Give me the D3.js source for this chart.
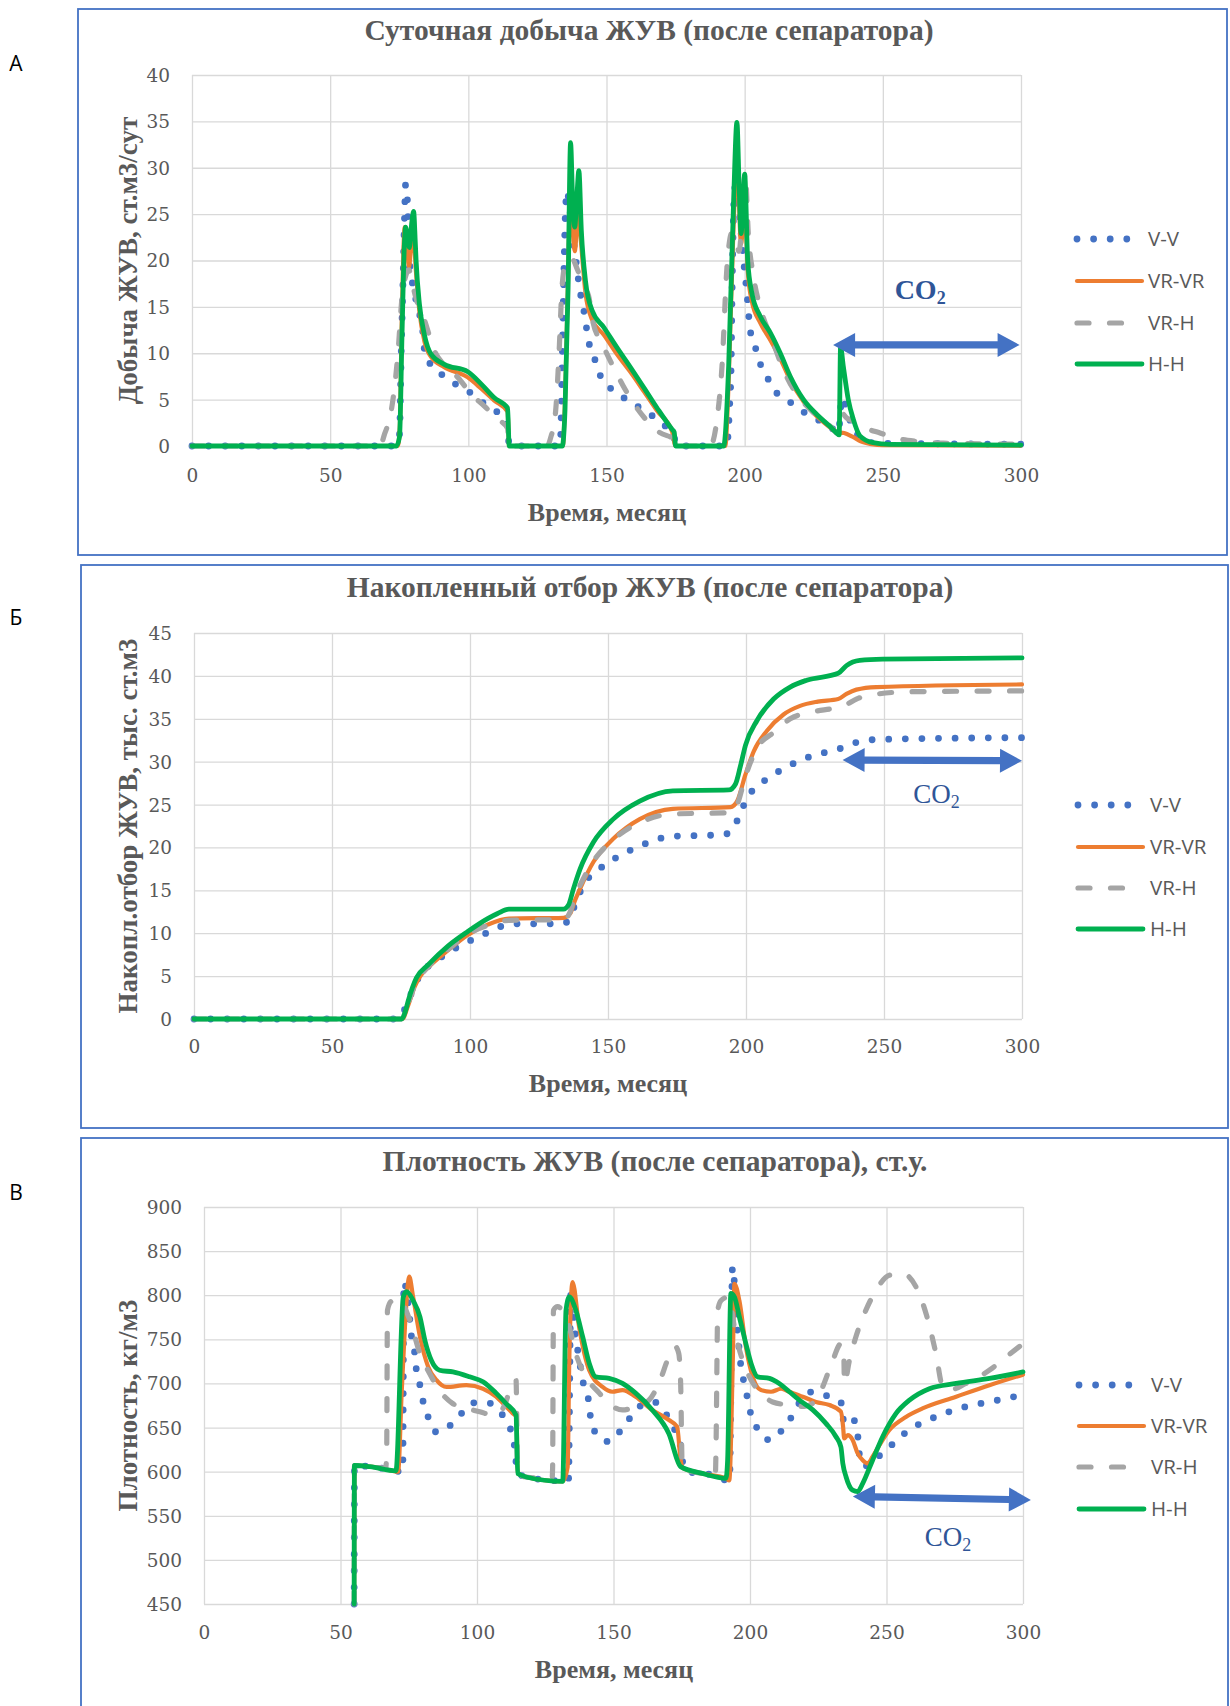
<!DOCTYPE html>
<html>
<head>
<meta charset="utf-8">
<script src="https://cdn.jsdelivr.net/npm/d3@7"></script>
<style>
  body { margin: 0; background: #fff; }
  svg { display: block; }
</style>
</head>
<body>
<div id="chart"></div>
<script>
// common x axis (months) and series names
var timeTicks = [0, 50, 100, 150, 200, 250, 300];
var seriesNames = ["V-V", "VR-VR", "VR-H", "H-H"];

// А - суточная добыча ЖУВ, ст.м3/сут   [месяц, значение]
var prodTicks = [0, 5, 10, 15, 20, 25, 30, 35, 40];
var prodVV = [[0,0],[73,0],[74.5,0.4],[75.1,1.3],[75.7,9.9],[76.3,17],[76.9,24.6],[77.3,28.2],[77.9,26.8],[78.7,20],[79.3,18.5],[81.7,14.9],[83.5,12.4],[84.1,10.4],[86.3,8.8],[90.4,7.7],[95.2,6.7],[100.5,5.8],[105.2,4.7],[110.3,3.7],[113.6,2.7],[114.2,1.6],[114.8,0.2],[115.5,0],[133,0],[133.4,1],[134,9.9],[134.6,18.9],[135.2,25.7],[135.8,27.5],[136.5,26],[138.2,21.8],[140.6,16.4],[141.8,14.6],[143.6,11.2],[145.7,9.4],[147.6,7.7],[151.2,6.3],[156.3,5.2],[161.1,4.3],[165.9,3.4],[170.7,2.3],[174.3,1.1],[175.5,0],[193.5,0],[194.5,4],[195.1,8.6],[195.4,15.7],[195.8,22.9],[196.3,27.6],[196.7,28],[198.4,24],[199.6,20],[200.8,16.5],[202,12.5],[203.8,10.7],[205.6,8.9],[208,7.5],[210.5,6.1],[215.3,5],[220.1,3.9],[226.1,2.9],[230.9,2.1],[233.9,1.4],[235.2,5.2],[236.9,3.9],[238.7,2.3],[241.7,0.9],[245,0.4],[250,0.3],[300,0.2]];
var prodVRVR = [[0,0],[74.5,0],[75.2,2],[75.8,12],[76.5,21],[77,23.6],[77.8,22],[78.5,19.3],[79.5,22],[80.2,22.5],[81,19],[82.3,14.5],[84.1,11.3],[86.5,9.6],[91.3,8.5],[99.8,7.4],[104.6,6.2],[109.4,4.9],[114.2,3.7],[114.8,0],[134.2,0],[135,5],[136,17],[136.9,27],[137.6,24],[138.5,21],[139.8,25],[140.9,21.5],[142.4,16.5],[144.8,13.6],[149,12],[153.8,9.9],[158.6,8],[163.5,5.9],[168.3,3.8],[173.7,1.6],[175,0],[193,0],[194.2,7],[196,24],[197.2,31],[198.7,21.8],[200,26.5],[201.1,19],[202.6,15.6],[205.6,13.3],[209.3,11.4],[212.9,9.4],[216.5,7.1],[221.3,4.8],[226.1,3.2],[230.9,2],[233.3,1.5],[236,1.4],[239,1],[242,0.5],[246,0.2],[250,0.1],[300,0.05]];
var prodVRH = [[0,0],[68,0],[69.7,1.3],[72.1,3.8],[74.5,9.9],[76,16],[77.5,18.5],[78.5,19],[79.5,17.8],[81,16],[84.1,13.6],[87.7,10.3],[91.3,8.7],[96.2,7.4],[101,5.6],[105.8,4.3],[110.6,2.9],[114.2,1.9],[114.8,0],[128.5,0],[129.8,0.9],[131.6,3.8],[132.8,9.9],[134,17.5],[135.5,20],[137.5,20.2],[139.5,19],[141.8,17.1],[143.5,16.2],[145,13.5],[148.5,11],[152,8.8],[156,6.5],[160.5,4.3],[165,2.6],[169,1.5],[173,1],[174.8,0.8],[175.2,0],[187.5,0],[190,2.9],[191.8,8.6],[193.6,19.3],[195.4,23],[196.5,22.5],[198,21],[199.5,27],[200.2,29.5],[201.3,23],[203.2,18.3],[206.3,14.3],[209.9,11.5],[213.5,8.6],[217.7,6.1],[222.5,4.3],[228.5,2.7],[232.1,1.8],[233.3,1.4],[235.2,3.5],[237,3],[240,2.6],[244,1.9],[249,1.4],[254,0.9],[262,0.5],[272,0.3],[300,0.2]];
var prodHH = [[0,0],[74,0],[75.1,1],[76,12],[76.9,22],[77.3,23.6],[78,22.5],[78.7,21.4],[79.5,24],[80.2,25.3],[80.8,22],[81.1,20],[82.3,15.3],[84.1,12],[86.5,9.9],[91.3,8.8],[99.8,8],[104.6,6.7],[109.4,5.2],[114.2,4.1],[114.8,0],[134,0],[135,4],[136.1,17],[137,32.7],[137.7,27],[138.5,23.6],[139.3,27],[140,29.7],[140.9,23.2],[142.4,17.8],[144.8,14.6],[149,12.8],[153.8,10.6],[158.6,8.5],[163.5,6.3],[168.3,4.1],[173.7,1.8],[174.5,1.5],[175,0],[192.4,0],[194.2,8.6],[196,26.5],[197.2,34.9],[198,28],[198.7,22.9],[199.4,26],[200,29.3],[201.1,20],[202.6,16.5],[205.6,14],[209.3,12.2],[212.9,10],[216.5,7.5],[221.3,5],[226.1,3.4],[230.9,2.1],[233.3,1.4],[234.2,1.2],[234.7,10.7],[235.7,8.6],[237.5,5],[239.3,2.9],[241.7,1.1],[246.5,0.36],[252.5,0.18],[300,0.1]];

// Б - накопленный отбор ЖУВ, тыс. ст.м3
var cumTicks = [0, 5, 10, 15, 20, 25, 30, 35, 40, 45];
var cumVV = [[0,0],[74,0],[75.5,0.6],[77.5,2],[79,3.2],[81,4.6],[85,6.2],[90,7.3],[95,8.3],[100.5,9.2],[105.8,10],[111.3,10.8],[117,11.1],[123,11.1],[129,11.1],[134.5,11.2],[137.5,12.9],[139.6,14.6],[142.6,16.3],[146.9,17.5],[151.9,18.6],[157,19.5],[162.5,20.3],[168.2,21],[173.7,21.3],[185,21.4],[192,21.5],[195.7,22.4],[198.3,24.3],[201.3,26.2],[205.2,27.4],[210,28.5],[215.4,29.5],[220.8,30.3],[226.2,30.9],[232.2,31.3],[237.7,32],[243.6,32.5],[249.4,32.6],[300,32.8]];
var cumVRVR = [[0,0],[75.5,0],[77.5,1.5],[80,3.8],[82,5],[84.8,6],[92,8],[99.2,9.8],[106.4,11],[114.1,11.7],[133.9,11.8],[136.3,12.3],[138,13.8],[139.9,15.2],[144.7,18.3],[151.9,21],[161.5,23.3],[173.5,24.5],[194.4,24.7],[196.8,25.4],[199.8,28.5],[202.8,31.2],[207.6,33.6],[213.6,35.5],[219.6,36.5],[226,37],[233.4,37.3],[236.4,37.9],[240,38.4],[247.2,38.7],[300,39]];
var cumVRH = [[0,0],[75,0],[77.5,1.8],[80,3.9],[82,5],[84.8,6.1],[92,8.1],[99.2,9.9],[106.4,10.9],[114.1,11.5],[133.9,11.6],[136.3,12.5],[138,14.3],[139.9,15.6],[144.7,18.4],[151.9,20.9],[161.5,22.9],[173.5,23.9],[194.4,24.05],[196.8,25],[199.8,28.3],[204,31.6],[210,33.4],[216,35],[224,35.8],[232.8,36.3],[236,36.6],[240,37.3],[246,37.8],[259,38.15],[300,38.25]];
var cumHH = [[0,0],[75.2,0],[76.5,0.8],[77.6,2.1],[80.6,4.8],[84.8,6.3],[92,8.5],[99.2,10.2],[106.4,11.7],[110,12.3],[114.1,12.8],[133.9,12.8],[135.7,13.3],[137.5,15.2],[139.9,17.5],[144.7,20.6],[151.9,23.3],[161.5,25.4],[173.5,26.6],[193.8,26.7],[196.2,27.4],[198,29.5],[199.8,31.9],[204,34.8],[210,37.3],[216,38.7],[222,39.5],[233.4,40.3],[236.4,41.2],[241.2,41.8],[249.6,41.95],[300,42.1]];

// В - плотность ЖУВ, кг/м3
var densTicks = [450, 500, 550, 600, 650, 700, 750, 800, 850, 900];
var densVV = [[55,450],[55.1,607],[60,606],[65,604],[72.8,600],[73.2,815],[74.8,790],[75.4,772],[76,753],[77.2,734],[77.8,715],[79.1,698],[80.3,679],[82.1,662],[85.1,645],[90,652],[94.3,666],[98.5,678],[104,678],[108.9,666],[111.9,651],[113.5,634],[114.1,617],[114.9,598],[120.4,592.5],[126.5,590.6],[132,588.7],[133.5,590],[134.4,806],[135.6,768],[136.2,749],[137.4,730],[138.1,713],[139.3,696],[141.1,677],[141.7,658.5],[144.1,641.5],[148.4,634],[152.7,647],[156.3,662],[159.4,673.6],[164.8,679],[169.1,666],[172.2,649],[174.6,628],[175.2,613],[177,600],[185,597],[192.5,590],[193.6,832],[194.3,813],[194.9,775.5],[195.5,756.6],[196.7,719],[197.9,700],[199.1,683],[200.4,664],[203.2,647],[207.1,636],[211.7,647],[215.4,663],[218.7,681],[223,690.6],[228.4,685.7],[233.8,676.6],[234.2,658.5],[236.4,654.7],[237.6,660],[239.4,643],[240,621],[241.9,605.7],[244.3,611],[248.6,621],[252.5,632],[256.9,644],[262,654],[267.5,661.5],[273,668],[278.9,673.6],[284.6,677.4],[290.7,681],[296.8,685],[300,686]];
var densVRVR = [[55,450],[55.1,607],[60,606],[65,604],[71.1,600],[72.4,689],[73.6,764],[75.2,821],[76.6,798],[79.1,753],[82.1,719],[85.1,704],[88.8,696],[96.1,698],[102.2,694],[107,685],[110.7,673.6],[113.1,666],[114.5,662],[114.9,598],[118,594],[131.4,589],[133.2,605],[133.8,726],[135,815],[137.4,764],[141.1,715],[146,696],[149.6,690.6],[153.3,692.5],[158.1,685],[164.2,670],[170.3,658.5],[173.3,651],[174.6,613],[175.5,604],[182.5,598],[191.2,592.5],[192.4,590],[193.7,726],[194.3,813],[196.1,794],[198.5,741.5],[201,707.5],[204,692.5],[207.7,690.6],[211.4,694],[214.4,690.6],[219.3,685],[224.2,679],[229.1,675.5],[233.3,668],[234.1,651],[234.5,637.7],[235.8,641.5],[237.6,636],[239.4,621],[241.3,613],[243.1,609.4],[244.9,617],[247.4,630],[251,647],[257.1,662],[263.2,671.7],[275.5,685],[287.7,698],[300,710]];
var densVRH = [[55,450],[55.1,607],[60,606],[66.5,604],[66.9,617],[67.2,783],[68.5,793],[71.1,796],[75.4,771.7],[79.1,734],[82.7,711],[86.3,692],[91.2,677],[96.1,671.7],[101,668],[105.8,664],[109.5,671.7],[113.1,700],[114.3,703.8],[114.9,598],[118,594],[127.5,592],[127.7,605],[128,783],[129.5,787],[133.8,764],[136.2,734],[139.9,707.5],[144.8,689],[148.4,677],[153.3,670],[158.1,673.6],[163,681],[166.6,700],[170.3,730],[172.7,741.5],[173.9,734],[174.6,700],[175.2,603],[182.5,598],[187.3,594],[187.5,617],[188.2,783],[189.4,794],[192,798],[194.9,753],[197.3,726],[200.4,704],[204,689],[208.3,679],[214.4,675.5],[219.9,674],[224.2,681],[226.6,696],[230.3,726],[233.3,745],[234.3,740],[234.6,700],[236.4,726],[238.8,753],[241.9,779],[246.2,805.7],[251,822.7],[255.9,824.5],[260.8,809.5],[264.5,779],[268.1,734],[270.6,696],[273,692.5],[279.1,700],[287.7,715],[293.8,730],[300,745]];
var densHH = [[55,450],[55.1,607],[60.8,605.7],[70.3,601],[73,798],[74.2,804],[76.6,794],[79.1,775.5],[80.9,749],[83.3,726],[86.3,715],[91.2,713],[97.3,707.5],[102.2,702],[107,689],[110.7,677],[114.3,664],[114.9,598],[118,594],[131.4,589],[132.6,783],[133.8,798],[136.2,783],[138.7,753],[141.1,723],[143.5,707.5],[148.4,705.7],[153.3,700],[158.1,689],[164.2,670],[170.3,643],[174.6,605.7],[182.5,598],[191.2,592.5],[191.8,613],[193,802],[194.3,798],[196.1,775.5],[198.5,745],[200.4,722.7],[202.8,707.5],[207.1,705.7],[210.7,700],[214.4,690.6],[218.1,681],[223,670],[227.8,654.7],[231.5,639.6],[233.3,628],[234,609.4],[235.2,594],[237.6,579],[239.4,577.4],[241.3,586.8],[244.9,613],[248.6,639.6],[253.5,666],[258.4,681],[265.7,694],[275.5,700],[287.7,705.7],[300,713]];

// line look for each series
var styles = {
  "V-V":   {color: "#4472C4", width: 6.8, dash: "0 16.6"},
  "VR-VR": {color: "#ED7D31", width: 4.2, dash: null},
  "VR-H":  {color: "#A5A5A5", width: 5.2, dash: "12 20.5"},
  "H-H":   {color: "#00B050", width: 4.8, dash: null}
};

var serif = "'Liberation Serif', 'Times New Roman', serif";
var tickFont = "'DejaVu Serif', serif";
var sans = "'Open Sans', 'Noto Sans', sans-serif";
var textGray = "#595959";

var panels = [
  {
    letter: "А", letterY: 64,
    frame: [78, 9, 1149, 546],
    plot: {left: 192, right: 1021, top: 75, bottom: 446},
    yDomain: [0, 40], yTicks: prodTicks,
    title: "Суточная добыча ЖУВ (после сепаратора)", titleX: 649, titleY: 30,
    xTitleX: 607, xTitleY: 512, xTickY: 30,
    yTitle: "Добыча ЖУВ, ст.м3/сут",
    data: [prodVV, prodVRVR, prodVRH, prodHH],
    legend: {x0: 1077, x1: 1142, tx: 1148, rows: [239, 281, 323, 364]},
    arrow: {t0: 232, t1: 299.5, v0: 10.9, v1: 10.9},
    co2: {t: 263.5, v: 16.9, bold: true, size: 28}
  },
  {
    letter: "Б", letterY: 618,
    frame: [81, 565, 1147, 563],
    plot: {left: 194, right: 1022, top: 633, bottom: 1019},
    yDomain: [0, 45], yTicks: cumTicks,
    title: "Накопленный отбор ЖУВ (после сепаратора)", titleX: 650, titleY: 587,
    xTitleX: 608, xTitleY: 1083, xTickY: 28,
    yTitle: "Накопл.отбор ЖУВ, тыс. ст.м3",
    data: [cumVV, cumVRVR, cumVRH, cumHH],
    legend: {x0: 1078, x1: 1143, tx: 1150, rows: [805, 847, 888, 929]},
    arrow: {t0: 235, t1: 300, v0: 30.2, v1: 30.1},
    co2: {t: 269, v: 26.3, bold: false, size: 27}
  },
  {
    letter: "В", letterY: 1193,
    frame: [81, 1138, 1147, 620],
    plot: {left: 204, right: 1023, top: 1207, bottom: 1604},
    yDomain: [450, 900], yTicks: densTicks,
    title: "Плотность ЖУВ (после сепаратора), ст.у.", titleX: 655, titleY: 1161,
    xTitleX: 614, xTitleY: 1669, xTickY: 29,
    yTitle: "Плотность, кг/м3",
    data: [densVV, densVRVR, densVRH, densHH],
    legend: {x0: 1079, x1: 1144, tx: 1151, rows: [1385, 1426, 1467, 1509]},
    arrow: {t0: 237.7, t1: 302.9, v0: 572, v1: 568},
    co2: {t: 272.5, v: 527, bold: false, size: 27}
  }
];

var svg = d3.select("#chart").append("svg")
  .attr("width", 1230)
  .attr("height", 1706);
svg.append("rect").attr("width", 1230).attr("height", 1706).attr("fill", "#fff");

// double headed arrow as one polygon
function arrowPoints(xa, ya, xb, yb) {
  var hl = 22, hw = 12, sw = 3.6;
  var dx = xb - xa, dy = yb - ya, L = Math.sqrt(dx * dx + dy * dy);
  var ux = dx / L, uy = dy / L, nx = -uy, ny = ux;
  var ax = xa + ux * hl, ay = ya + uy * hl, bx = xb - ux * hl, by = yb - uy * hl;
  var pts = [
    [xa, ya], [ax + nx * hw, ay + ny * hw], [ax + nx * sw, ay + ny * sw],
    [bx + nx * sw, by + ny * sw], [bx + nx * hw, by + ny * hw], [xb, yb],
    [bx - nx * hw, by - ny * hw], [bx - nx * sw, by - ny * sw],
    [ax - nx * sw, ay - ny * sw], [ax - nx * hw, ay - ny * hw]
  ];
  return pts.map(function(p) { return p[0].toFixed(1) + "," + p[1].toFixed(1); }).join(" ");
}

function drawPanel(p) {
  svg.append("rect")
    .attr("x", p.frame[0]).attr("y", p.frame[1])
    .attr("width", p.frame[2]).attr("height", p.frame[3])
    .attr("fill", "none").attr("stroke", "#4472C4").attr("stroke-width", 1.8);

  svg.append("text")
    .attr("x", 16).attr("y", p.letterY).attr("dy", "0.35em")
    .attr("text-anchor", "middle")
    .style("font-family", sans).style("font-size", "21px").style("fill", "#000")
    .text(p.letter);

  var width = p.plot.right - p.plot.left,
      height = p.plot.bottom - p.plot.top;
  var g = svg.append("g")
    .attr("transform", "translate(" + p.plot.left + "," + p.plot.top + ")");

  var x = d3.scaleLinear().domain([0, 300]).range([0, width]);
  var y = d3.scaleLinear().domain(p.yDomain).range([height, 0]);

  // grid + tick labels
  var xAxis = g.append("g")
    .attr("transform", "translate(0," + height + ")")
    .call(d3.axisBottom(x).tickValues(timeTicks).tickSize(-height).tickFormat(d3.format("d")));
  var yAxis = g.append("g")
    .call(d3.axisLeft(y).tickValues(p.yTicks).tickSize(-width).tickPadding(22).tickFormat(d3.format("d")));
  [xAxis, yAxis].forEach(function(ax) {
    ax.select(".domain").remove();
    ax.selectAll(".tick line").attr("stroke", "#D9D9D9").attr("stroke-width", 1.3);
    ax.selectAll(".tick text")
      .style("font-family", tickFont).style("font-size", "18.5px").style("fill", textGray);
  });
  xAxis.selectAll(".tick text").attr("y", p.xTickY).attr("dy", "0.35em");
  yAxis.selectAll(".tick text").attr("dy", "0.35em");

  // series
  var line = d3.line()
    .x(function(d) { return x(d[0]); })
    .y(function(d) { return y(d[1]); })
    .curve(d3.curveMonotoneX);
  p.data.forEach(function(data, i) {
    var s = styles[seriesNames[i]];
    g.append("path").datum(data)
      .attr("d", line)
      .attr("fill", "none")
      .attr("stroke", s.color)
      .attr("stroke-width", s.width)
      .attr("stroke-linecap", "round")
      .attr("stroke-linejoin", "round")
      .attr("stroke-dasharray", s.dash);
  });

  // CO2 arrow and label
  g.append("polygon")
    .attr("points", arrowPoints(x(p.arrow.t0), y(p.arrow.v0), x(p.arrow.t1), y(p.arrow.v1)))
    .attr("fill", "#4472C4");
  var co2 = g.append("text")
    .attr("x", x(p.co2.t)).attr("y", y(p.co2.v)).attr("dy", "0.35em")
    .attr("text-anchor", "middle")
    .style("font-family", serif).style("font-size", p.co2.size + "px")
    .style("font-weight", p.co2.bold ? "bold" : "normal")
    .style("fill", "#2F5597");
  co2.append("tspan").text("CO");
  co2.append("tspan").attr("dy", "0.3em").style("font-size", Math.round(p.co2.size * 0.65) + "px").text("2");

  // titles
  svg.append("text")
    .attr("x", p.titleX).attr("y", p.titleY).attr("dy", "0.35em")
    .attr("text-anchor", "middle")
    .style("font-family", serif).style("font-size", "29.5px").style("font-weight", "bold")
    .style("fill", textGray)
    .text(p.title);
  svg.append("text")
    .attr("x", p.xTitleX).attr("y", p.xTitleY).attr("dy", "0.35em")
    .attr("text-anchor", "middle")
    .style("font-family", serif).style("font-size", "26px").style("font-weight", "bold")
    .style("fill", textGray)
    .text("Время, месяц");
  svg.append("text")
    .attr("transform", "translate(128," + ((p.plot.top + p.plot.bottom) / 2) + ") rotate(-90)")
    .attr("dy", "0.35em")
    .attr("text-anchor", "middle")
    .style("font-family", serif).style("font-size", "27px").style("font-weight", "bold")
    .style("fill", textGray)
    .text(p.yTitle);

  // legend
  seriesNames.forEach(function(name, i) {
    var s = styles[name], ry = p.legend.rows[i];
    svg.append("line")
      .attr("x1", p.legend.x0).attr("x2", p.legend.x1)
      .attr("y1", ry).attr("y2", ry)
      .attr("stroke", s.color).attr("stroke-width", s.width)
      .attr("stroke-linecap", "round")
      .attr("stroke-dasharray", s.dash);
    svg.append("text")
      .attr("x", p.legend.tx).attr("y", ry).attr("dy", "0.35em")
      .style("font-family", sans).style("font-size", "20.5px").style("fill", textGray)
      .text(name);
  });
}

panels.forEach(drawPanel);
</script>
</body>
</html>
